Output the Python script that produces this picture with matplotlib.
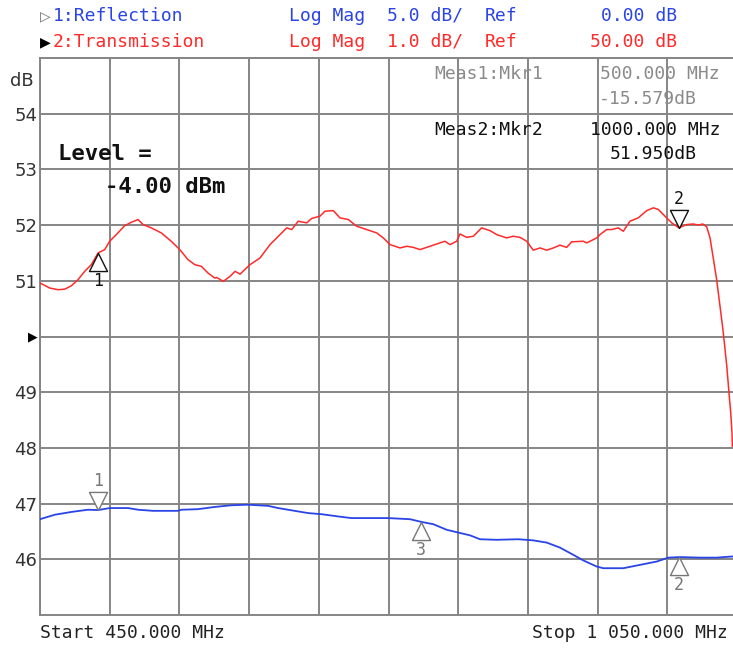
import numpy as np
import matplotlib.pyplot as plt
from matplotlib.path import Path

# trace 2: transmission (dB), 1 dB/div, ref 50 dB
trans_mhz = [450, 458.4, 465.5, 471.3, 476.9, 482.7, 488.5, 494.2, 500, 505.7,
             510, 517.1, 522.9, 528.6, 534.4, 538.7, 545.8, 554.4, 563, 570.3,
             577.4, 583.2, 588.9, 594.6, 600.4, 602.1, 607.8, 613.6, 617.9, 622.2,
             630.8, 639.4, 648, 653.8, 662.4, 666.7, 672.3, 679.6, 683.9, 691,
             695.3, 702.5, 708.2, 715.4, 722.6, 731.2, 739.8, 745.5, 751.3, 759.9,
             765.7, 771.4, 777.1, 785.7, 794.3, 798.6, 802.9, 808.7, 811.5, 817.3,
             823, 830.2, 837.4, 843.1, 851.7, 857.4, 863.2, 869, 874.6, 880.4,
             886.2, 891.9, 897.6, 903.4, 907.7, 917.7, 920.6, 929.2, 932.1, 937.8,
             942.1, 947.8, 952.1, 957.9, 965, 972.3, 978, 982.3, 988, 993.8,
             1000, 1006.7, 1012.4, 1016.7, 1020.5, 1023.9, 1026.8, 1029.7, 1032.5, 1035.4,
             1038.2, 1041.2, 1043.1, 1044.6, 1045.7, 1046.0]
trans_db = [50.96, 50.87, 50.84, 50.85, 50.91, 51.02, 51.17, 51.29, 51.50, 51.56,
            51.71, 51.86, 51.99, 52.05, 52.10, 52.01, 51.95, 51.86, 51.71, 51.56,
            51.38, 51.29, 51.26, 51.14, 51.05, 51.06, 50.99, 51.08, 51.17, 51.12,
            51.29, 51.41, 51.65, 51.77, 51.95, 51.92, 52.07, 52.04, 52.12, 52.16,
            52.25, 52.26, 52.13, 52.10, 51.98, 51.92, 51.86, 51.77, 51.65, 51.59,
            51.62, 51.60, 51.56, 51.62, 51.68, 51.71, 51.65, 51.71, 51.84, 51.78,
            51.80, 51.95, 51.90, 51.83, 51.77, 51.80, 51.78, 51.71, 51.55, 51.59,
            51.55, 51.59, 51.64, 51.60, 51.70, 51.71, 51.68, 51.77, 51.83, 51.92,
            51.92, 51.95, 51.89, 52.07, 52.13, 52.26, 52.31, 52.28, 52.16, 52.04,
            51.95, 52.01, 52.02, 52.00, 52.02, 51.97, 51.77, 51.39, 51.02, 50.54,
            50.07, 49.47, 48.99, 48.63, 48.27, 48.03]

# trace 1: reflection (dB), 5 dB/div, ref 0 dB
refl_mhz = [450, 462.7, 477, 491.3, 500, 510, 525.8, 534.4, 547.3, 568.8,
            571.6, 586, 600.4, 614.7, 629, 646.3, 654.9, 669.2, 680.7, 692.2,
            706.5, 718, 749.6, 768.5, 778.6, 788.6, 800.1, 810.1, 820.2, 828.8,
            843.1, 861.7, 874.6, 886.2, 897.6, 909.1, 917.7, 929.2, 934.9, 952.1,
            966.5, 980.9, 990.9, 1000.9, 1018.1, 1032.5, 1045.4, 1050]
refl_db = [-16.40, -16.00, -15.75, -15.55, -15.58, -15.40, -15.40, -15.55, -15.65, -15.65,
           -15.55, -15.50, -15.30, -15.15, -15.10, -15.20, -15.40, -15.65, -15.85, -15.95,
           -16.15, -16.30, -16.30, -16.40, -16.65, -16.85, -17.35, -17.60, -17.85, -18.20,
           -18.25, -18.20, -18.30, -18.50, -18.95, -19.60, -20.10, -20.65, -20.80, -20.80,
           -20.50, -20.20, -19.85, -19.80, -19.85, -19.85, -19.75, -19.75]

trans_ref, trans_scale = 50.0, 1.0
refl_ref, refl_scale = 0.0, 5.0

# markers: (number, MHz, active)
trans_markers = [(1, 500, False), (2, 1000, True)]
refl_markers = [(1, 500, True), (3, 778, False), (2, 1000, False)]

ytick_vals = [46, 47, 48, 49, 50, 51, 52, 53, 54]
ytick_labels = ['46', '47', '48', '49', '', '51', '52', '53', '54']

RED = '#ff2a2a'
BLUE = '#2a44e6'
GRID = '#858585'
MONO = ['DejaVu Sans Mono', 'DejaVu Sans']


def to_screen(db):
    # place trace 1 on the trace 2 grid
    return trans_ref + (np.asarray(db) - refl_ref) / refl_scale * trans_scale


fig = plt.figure(figsize=(7.33, 6.48), dpi=100)
ax = fig.add_axes([40 / 733, 33 / 648, 697 / 733, 557 / 648])
ax.set_xlim(450, 1050)
ax.set_ylim(45, 55)
ax.set_xticks(np.arange(450, 1051, 60))
ax.set_yticks(ytick_vals)
ax.set_yticklabels(ytick_labels)
ax.tick_params(length=0, labelbottom=False, pad=2, labelsize=13, labelcolor='#333333')
ax.grid(True, color=GRID, lw=1.4)
for s in ax.spines.values():
    s.set_color(GRID)
    s.set_linewidth(1.4)

ax.plot(trans_mhz, trans_db, color=RED, lw=1.1, zorder=3)
refl_screen = to_screen(refl_db)
ax.plot(refl_mhz, refl_screen, color=BLUE, lw=1.3, zorder=3)

tri_down = Path([(0, 0), (-0.5, 1), (0.5, 1), (0, 0)])
tri_up = Path([(0, 0), (-0.5, -1), (0.5, -1), (0, 0)])


def draw_markers(markers, xs, ys, color):
    for num, f, active in markers:
        y = np.interp(f, xs, ys)
        ax.plot([f], [y], marker=tri_down if active else tri_up, ms=26,
                mfc='white', mec=color, mew=1.0, zorder=4)
        off = 21 if active else -20
        ax.annotate(str(num), (f, y), xytext=(0, off), textcoords='offset points',
                    ha='center', va='center', fontsize=12, color=color,
                    family=MONO, zorder=5)


draw_markers(trans_markers, trans_mhz, trans_db, '#111111')
draw_markers(refl_markers, refl_mhz, refl_screen, '#777777')

# reference position arrow
ax.text(-0.003, trans_ref, '\u25b6', transform=ax.get_yaxis_transform(),
        ha='right', va='center', fontsize=9, color='black', family='DejaVu Sans')
fig.text(10 / 733, 1 - 81 / 648, 'dB', fontsize=13, color='#333333', va='center')

# header lines
def hdr(x, y, s, color, ha='left'):
    fig.text(x / 733, 1 - y / 648, s, fontsize=13, color=color, family=MONO,
             ha=ha, va='center')


hdr(40, 16, '\u25b7', '#888888')
hdr(53, 16, '1:Reflection', BLUE)
hdr(289, 16, 'Log Mag', BLUE)
hdr(387, 16, '5.0 dB/', BLUE)
hdr(485, 16, 'Ref', BLUE)
hdr(677, 16, '0.00 dB', BLUE, ha='right')
hdr(40, 42, '\u25b6', 'black')
hdr(53, 42, '2:Transmission', RED)
hdr(289, 42, 'Log Mag', RED)
hdr(387, 42, '1.0 dB/', RED)
hdr(485, 42, 'Ref', RED)
hdr(677, 42, '50.00 dB', RED, ha='right')

# marker readouts
hdr(434, 74, 'Meas1:Mkr1', '#8a8a8a')
hdr(720, 74, '500.000 MHz', '#8a8a8a', ha='right')
hdr(697, 99, '-15.579dB', '#8a8a8a', ha='right')
hdr(434, 130, 'Meas2:Mkr2', '#111111')
hdr(720, 130, '1000.000 MHz', '#111111', ha='right')
hdr(697, 154, '51.950dB', '#111111', ha='right')

# source level
fig.text(58 / 733, 1 - 154 / 648, 'Level =', fontsize=16, fontweight='bold',
         family=MONO, va='center', color='#111111')
fig.text(105 / 733, 1 - 187 / 648, '-4.00 dBm', fontsize=16, fontweight='bold',
         family=MONO, va='center', color='#111111')

# sweep range
hdr(40, 633, 'Start 450.000 MHz', '#222222')
hdr(728, 633, 'Stop 1 050.000 MHz', '#222222', ha='right')

fig.savefig('out.png', dpi=100)
